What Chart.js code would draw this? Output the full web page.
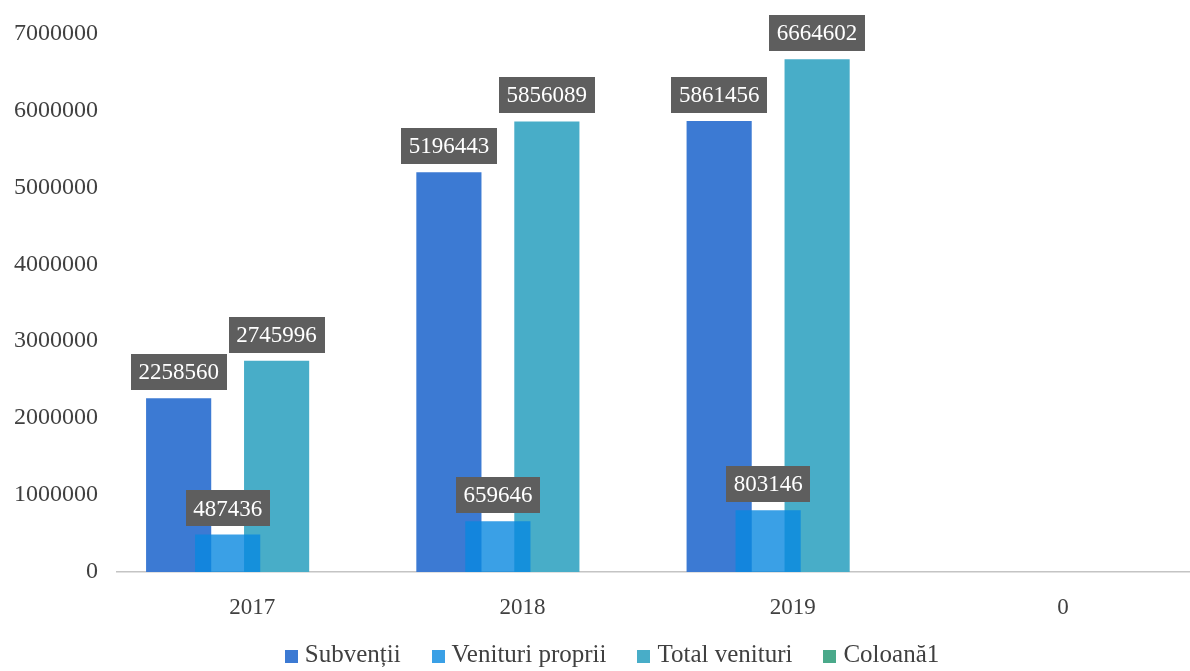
<!DOCTYPE html>
<html>
<head>
<meta charset="utf-8">
<script src="https://cdn.jsdelivr.net/npm/chart.js@4.4.1/dist/chart.umd.min.js"></script>
<style>
html,body{margin:0;padding:0;background:#fff;overflow:hidden;width:1190px;height:671px;}
#wrap{width:1198px;height:671px;position:relative;}
</style>
</head>
<body>
<div id="wrap"><canvas id="c" width="1198" height="671"></canvas></div>
<script>
const categories = ['2017', '2018', '2019', '0'];
const subventii = [2258560, 5196443, 5861456, null];
const venituriProprii = [487436, 659646, 803146, null];
const totalVenituri = [2745996, 5856089, 6664602, null];
const coloana1 = [null, null, null, null];
const seriesNames = ['Subvenții', 'Venituri proprii', 'Total venituri', 'Coloană1'];
const legendColors = ['#3c7ad3', '#3aa0e6', '#48adc8', '#4aa98a'];
const yTicks = [0, 1000000, 2000000, 3000000, 4000000, 5000000, 6000000, 7000000];

const FONT = "'Liberation Serif', 'DejaVu Serif', serif";
const TEXT = '#404040';

const lateDraw = {
  id: 'lateDraw',
  beforeDatasetDraw(chart, args) {
    if (args.index === 1 && !chart.$late) return false;
  },
  afterDatasetsDraw(chart) {
    chart.$late = true;
    const meta = chart.getDatasetMeta(1);
    if (meta.visible) meta.controller.draw();
    chart.$late = false;
    const ctx = chart.ctx;
    ctx.save();
    ctx.font = "23px " + FONT;
    ctx.textAlign = 'center';
    ctx.textBaseline = 'middle';
    chart.data.datasets.forEach((ds, di) => {
      const m = chart.getDatasetMeta(di);
      if (!m.visible) return;
      m.data.forEach((bar, i) => {
        const v = ds.data[i];
        if (v === null || v === undefined) return;
        const txt = String(v);
        const w = ctx.measureText(txt).width + 15;
        const h = 36;
        const cx = bar.x;
        const bottom = bar.y - 8;
        ctx.fillStyle = '#5e5e5e';
        ctx.fillRect(Math.round(cx - w / 2), Math.round(bottom - h), Math.round(w), h);
        ctx.fillStyle = '#ffffff';
        ctx.fillText(txt, cx, bottom - h / 2 + 1);
      });
    });
    ctx.restore();
  }
};

const bottomLegend = {
  id: 'bottomLegend',
  afterDraw(chart) {
    const ctx = chart.ctx;
    ctx.save();
    ctx.font = "25px " + FONT;
    ctx.textBaseline = 'alphabetic';
    ctx.textAlign = 'left';
    const box = 13, gap = 7, spacing = 31;
    const items = chart.data.datasets.map((ds, i) => ({ text: ds.label, color: legendColors[i], w: ctx.measureText(ds.label).width }));
    const total = items.reduce((s, it) => s + box + gap + it.w, 0) + spacing * (items.length - 1);
    let x = 612 - total / 2;
    const baseline = 662;
    items.forEach(it => {
      ctx.fillStyle = it.color;
      ctx.fillRect(Math.round(x), baseline - 12, box, box);
      x += box + gap;
      ctx.fillStyle = TEXT;
      ctx.fillText(it.text, x, baseline);
      x += it.w + spacing;
    });
    ctx.restore();
  }
};

new Chart(document.getElementById('c'), {
  type: 'bar',
  data: {
    labels: categories,
    datasets: [
      { label: seriesNames[0], data: subventii, backgroundColor: '#3c7ad3' },
      { label: seriesNames[1], data: venituriProprii, backgroundColor: 'rgba(9,136,224,0.8)' },
      { label: seriesNames[2], data: totalVenituri, backgroundColor: '#48adc8' },
      { label: seriesNames[3], data: coloana1, backgroundColor: '#4aa98a' }
    ]
  },
  options: {
    responsive: false,
    animation: false,
    devicePixelRatio: 1,
    categoryPercentage: 0.725,
    barPercentage: 1.33,
    layout: { padding: { top: 20, bottom: 49, left: 0, right: 0 } },
    plugins: {
      tooltip: { enabled: false },
      legend: { display: false }
    },
    scales: {
      x: {
        afterFit(scale) { scale.height = 50; },
        grid: { display: false, drawTicks: false },
        border: { display: true, color: '#c4c4c4', width: 1.5 },
        ticks: { color: TEXT, font: { family: FONT, size: 23 }, padding: 22 }
      },
      y: {
        min: 0, max: 7000000,
        afterBuildTicks(scale) { scale.ticks = yTicks.map(v => ({ value: v })); },
        afterFit(scale) { scale.width = 117; },
        grid: { display: false, drawTicks: false },
        border: { display: false },
        ticks: { color: TEXT, font: { family: FONT, size: 24 }, padding: 19, callback: (v) => String(v) }
      }
    }
  },
  plugins: [lateDraw, bottomLegend]
});
</script>
</body>
</html>
